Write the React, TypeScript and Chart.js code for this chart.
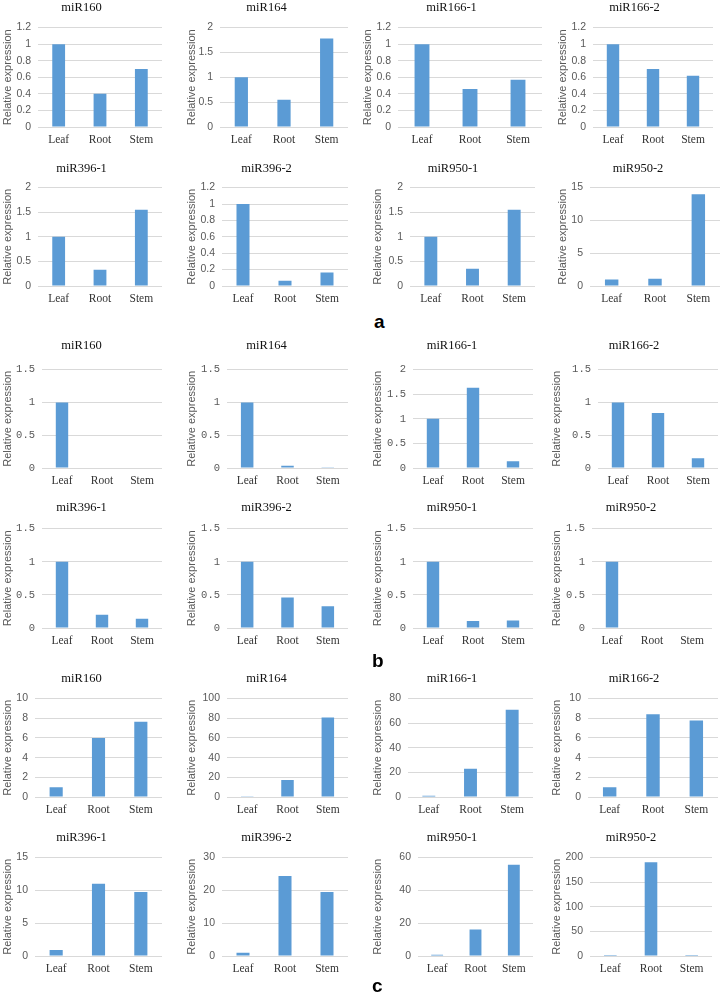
import React, { useEffect, useRef } from "react";
import { Chart, registerables } from "chart.js";
Chart.register(...registerables);

// ---------- DATA ----------
const categories = ["Leaf", "Root", "Stem"];
const mirnas = ["miR160", "miR164", "miR166-1", "miR166-2", "miR396-1", "miR396-2", "miR950-1", "miR950-2"];
const panelLabels = ["a", "b", "c"];

const panelAValues = [
  [1, 0.4, 0.7],
  [1, 0.55, 1.78],
  [1, 0.46, 0.57],
  [1, 0.7, 0.62],
  [1, 0.33, 1.55],
  [1, 0.065, 0.165],
  [1, 0.35, 1.55],
  [1, 1.12, 14.0],
];
const panelAMax = [1.2, 2, 1.2, 1.2, 2, 1.2, 2, 15];
const panelAStep = [0.2, 0.5, 0.2, 0.2, 0.5, 0.2, 0.5, 5];

const panelBValues = [
  [1, 0, 0],
  [1, 0.035, 0.013],
  [1, 1.63, 0.135],
  [1, 0.84, 0.147],
  [1, 0.2, 0.14],
  [1, 0.46, 0.33],
  [1, 0.105, 0.115],
  [1, 0, 0],
];
const panelBMax = [1.5, 1.5, 2, 1.5, 1.5, 1.5, 1.5, 1.5];
const panelBStep = [0.5, 0.5, 0.5, 0.5, 0.5, 0.5, 0.5, 0.5];

const panelCValues = [
  [1, 6.0, 7.64],
  [0.2, 17.2, 80.8],
  [1, 22.9, 70.9],
  [1, 8.4, 7.78],
  [0.9, 11.03, 9.76],
  [1, 24.4, 19.5],
  [0.8, 16.1, 55.7],
  [0.2, 190.5, 0.2],
];
const panelCMax = [10, 100, 80, 10, 15, 30, 60, 200];
const panelCStep = [2, 20, 20, 2, 5, 10, 20, 50];

// ---------- LAYOUT (positions only) ----------
// per row: title center y, plot top, plot bottom
const rowGeom = [
  [7, 27, 127],
  [168, 187, 286],
  [345, 369, 468],
  [507, 528, 628],
  [678, 698, 797],
  [837, 857, 956],
];
// per row, per column: plot left, plot right, y-title center x
const colGeom = [
  [[38, 162, 8], [220, 348, 192], [398, 542, 368], [593, 713, 563]],
  [[38, 162, 8], [222, 348, 192], [410, 535, 378], [590, 720, 563]],
  [[42, 162, 8], [227, 348, 192], [413, 533, 378], [598, 718, 557]],
  [[42, 162, 8], [227, 348, 192], [413, 533, 378], [592, 712, 557]],
  [[35, 162, 8], [227, 348, 192], [408, 533, 378], [588, 718, 557]],
  [[35, 162, 8], [222, 348, 192], [418, 533, 378], [590, 712, 557]],
];
const panelLabelPos = [
  [374, 312],
  [372, 651],
  [372, 976],
];

const BAR = "#5B9BD5";
const GRID = "#D9D9D9";

type MiniProps = {
  title: string;
  values: number[];
  max: number;
  step: number;
  tickFamily: string;
  geom: { titleY: number; top: number; bottom: number; left: number; right: number; yTitleX: number };
};

function MiniChart({ title, values, max, step, tickFamily, geom }: MiniProps) {
  const ref = useRef<HTMLCanvasElement | null>(null);
  const yTitleSize = 11;
  const canvasLeft = Math.round(geom.yTitleX - (yTitleSize * 1.2) / 2);
  const canvasTop = Math.round(geom.titleY - 7.2);
  const yw = geom.left - canvasLeft;
  const width = geom.right - canvasLeft + 1;
  const xh = 24;
  const height = geom.bottom - canvasTop + xh;
  const titleBottomPad = geom.top - canvasTop - 14.4;

  useEffect(() => {
    if (!ref.current) return;
    const chart = new Chart(ref.current, {
      type: "bar",
      data: {
        labels: categories,
        datasets: [
          {
            data: values,
            backgroundColor: BAR,
            borderWidth: 0,
            barPercentage: 0.31,
            categoryPercentage: 1,
          },
        ],
      },
      options: {
        animation: false,
        responsive: false,
        maintainAspectRatio: false,
        devicePixelRatio: 1,
        layout: { padding: { left: 0, right: 1, top: 0, bottom: 0 } },
        plugins: {
          legend: { display: false },
          tooltip: { enabled: false },
          title: {
            display: true,
            text: title,
            color: "#111",
            font: { family: "'Liberation Serif', 'Times New Roman', serif", size: 12.5, weight: "normal" },
            padding: { top: 0, bottom: titleBottomPad },
          },
        },
        scales: {
          x: {
            grid: { display: false, drawTicks: false },
            border: { display: false },
            ticks: {
              color: "#333",
              font: { family: "'Liberation Serif', 'Times New Roman', serif", size: 11.5 },
              padding: 6,
              maxRotation: 0,
            },
            afterFit: (s: any) => {
              s.height = xh;
            },
          },
          y: {
            min: 0,
            max: max,
            ticks: {
              stepSize: step,
              color: "#595959",
              font: { family: tickFamily, size: 10.5 },
              padding: 7,
              callback: (v: any) => String(Number(Number(v).toFixed(3))),
            },
            grid: { color: GRID, lineWidth: 1, drawTicks: false },
            border: { display: false },
            title: {
              display: true,
              text: "Relative expression",
              color: "#595959",
              font: { family: "'Liberation Sans', Arial, sans-serif", size: yTitleSize },
              padding: { top: 0, bottom: 0 },
            },
            afterFit: (s: any) => {
              s.width = yw;
            },
          },
        },
      },
    } as any);
    return () => chart.destroy();
  }, []);

  return (
    <canvas
      ref={ref}
      width={width}
      height={height}
      style={{ position: "absolute", left: canvasLeft, top: canvasTop, width, height }}
    />
  );
}

export default function App() {
  const panels = [
    { values: panelAValues, max: panelAMax, step: panelAStep, font: "'Liberation Sans', Arial, sans-serif" },
    { values: panelBValues, max: panelBMax, step: panelBStep, font: "'Liberation Mono', 'Courier New', monospace" },
    { values: panelCValues, max: panelCMax, step: panelCStep, font: "'Liberation Sans', Arial, sans-serif" },
  ];
  const charts: React.ReactNode[] = [];
  panels.forEach((p, pi) => {
    for (let i = 0; i < 8; i++) {
      const row = pi * 2 + Math.floor(i / 4);
      const col = i % 4;
      const [titleY, top, bottom] = rowGeom[row];
      const [left, right, yTitleX] = colGeom[row][col];
      charts.push(
        <MiniChart
          key={pi + "-" + i}
          title={mirnas[i]}
          values={p.values[i]}
          max={p.max[i]}
          step={p.step[i]}
          tickFamily={p.font}
          geom={{ titleY, top, bottom, left, right, yTitleX }}
        />
      );
    }
  });
  return (
    <div
      style={{
        position: "absolute",
        left: 0,
        top: 0,
        width: 721,
        height: 992,
        background: "#fff",
        overflow: "hidden",
      }}
    >
      {charts}
      {panelLabels.map((l, i) => (
        <div
          key={l}
          style={{
            position: "absolute",
            left: panelLabelPos[i][0],
            top: panelLabelPos[i][1],
            fontFamily: "'Liberation Sans', Arial, sans-serif",
            fontWeight: "bold",
            fontSize: 19,
            lineHeight: "19px",
            color: "#000",
          }}
        >
          {l}
        </div>
      ))}
    </div>
  );
}
